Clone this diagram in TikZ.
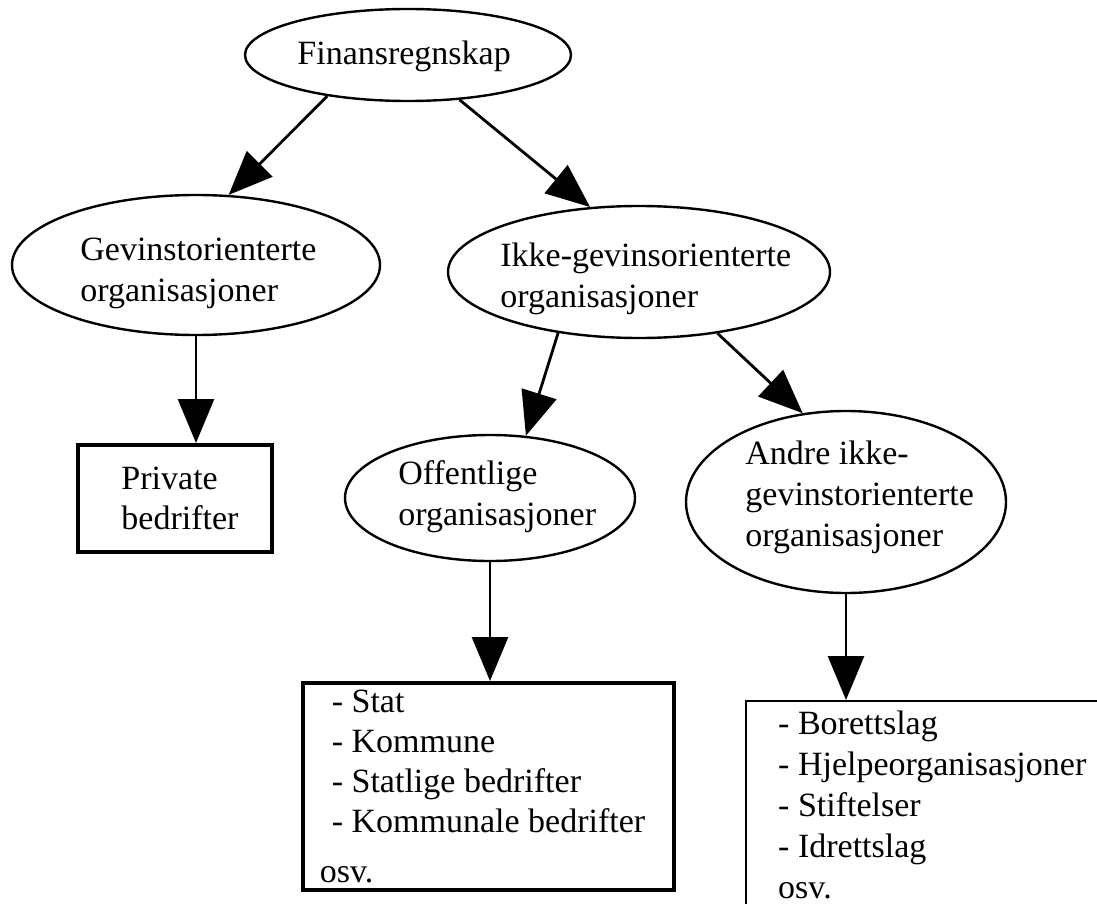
\documentclass[tikz,border=0pt]{standalone}
\usepackage{fontspec}
\setmainfont{Liberation Serif}
\usetikzlibrary{shapes.geometric}
\usetikzlibrary{arrows.meta}
\tikzset{
  oval/.style={ellipse, draw, line width=1.2pt, inner sep=0pt},
  ovaltext/.style={anchor=base west, align=left, inner sep=0pt, font=\fontsize{17}{20.5}\selectfont},
  heavybox/.style={draw, line width=2pt, align=left, font=\fontsize{17}{20}\selectfont},
  listbox/.style={draw, line width=1.2pt, align=left, inner xsep=16pt, inner ysep=5pt, font=\fontsize{17}{20.5}\selectfont},
  flow/.style={-{Triangle[length=22pt,width=18pt]}, line width=1.4pt}
}

\begin{document}
\begin{tikzpicture}[x=0.5pt, y=-0.5pt]
  \path[use as bounding box, clip] (0,0) rectangle (1097,904);

  % ovals
  \node[oval, minimum width=163pt, minimum height=46pt] (fin) at (408,55) {};
  \node[oval, minimum width=184pt, minimum height=70pt] (gev) at (196,265) {};
  \node[oval, minimum width=191pt, minimum height=66pt] (ikke) at (639,272) {};
  \node[oval, minimum width=145pt, minimum height=63pt] (off) at (490,498) {};
  \node[oval, minimum width=160pt, minimum height=91pt] (andre) at (846,502) {};

  % text placed by the baseline of its last line
  \node[ovaltext] (fin-t) at (297,65) {Finansregnskap};
  \node[ovaltext] (gev-t) at (80,301) {Gevinstorienterte\\organisasjoner};
  \node[ovaltext] (ikke-t) at (500,307) {Ikke-gevinsorienterte\\organisasjoner};
  \node[ovaltext] (off-t) at (398,525) {Offentlige\\organisasjoner};
  \node[ovaltext] (andre-t) at (745,546) {Andre ikke-\\gevinstorienterte\\organisasjoner};

  % boxes
  \node[heavybox, minimum width=97pt, minimum height=53.5pt] (priv) at (175,498.5) {\hspace*{5pt}Private\\\hspace*{5pt}bedrifter};
  \node[heavybox, minimum width=185.5pt, minimum height=103.5pt] (pub) at (488.5,786.5)
    {- Stat\\- Kommune\\- Statlige bedrifter\\- Kommunale bedrifter\\[5pt]\hspace*{-6pt}osv.};
  \node[listbox, anchor=north west] (other) at (745,700)
    {- Borettslag\\- Hjelpeorganisasjoner\\- Stiftelser\\- Idrettslag\\osv.};

  \draw[flow] (fin.207) -- (gev.65);
  \draw[flow] (fin.319) -- (ikke.127);
  \draw[flow] (gev.south) -- (gev.south |- priv.north);
  \draw[flow] (ikke.217) -- (off.60);
  \draw[flow] (ikke.322) -- (andre.116);
  \draw[flow] (off.south) -- (off.south |- pub.north);
  \draw[flow] (andre.south) -- (andre.south |- other.north);
\end{tikzpicture}
\end{document}
